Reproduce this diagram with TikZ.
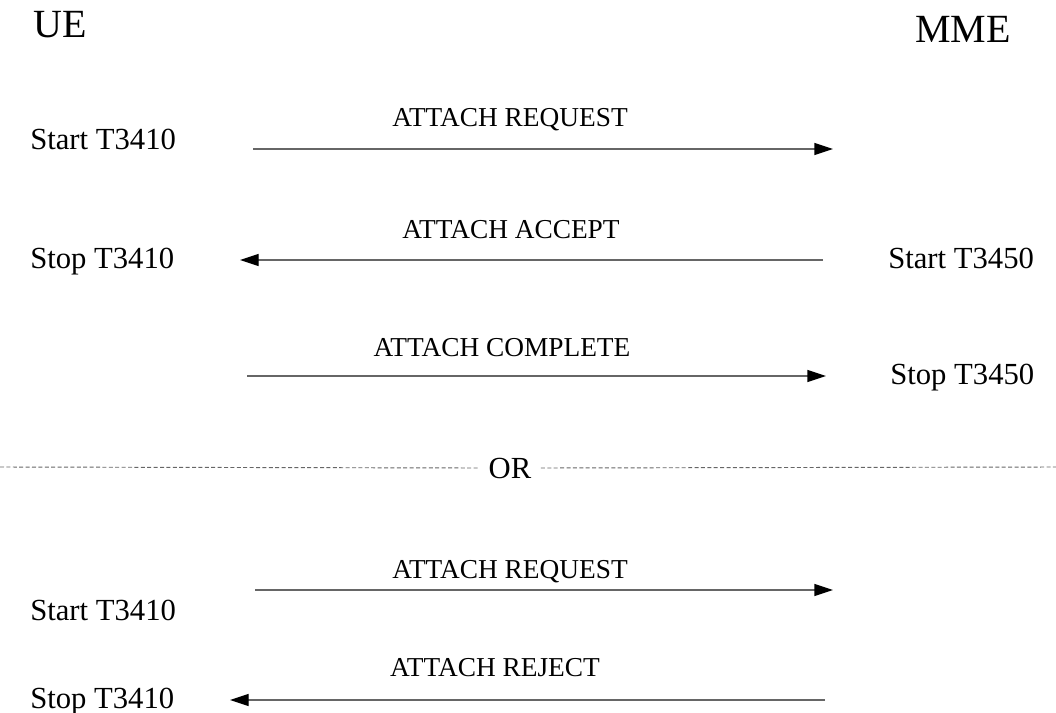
\documentclass[tikz,border=0pt]{standalone}
\usepackage{fontspec}
\setmainfont{Liberation Serif}
\usetikzlibrary{arrows.meta}

\tikzset{
  entity/.style={anchor=base west, inner sep=0pt, font=\fontsize{30}{36}\selectfont},
  timer/.style={anchor=base west, inner sep=0pt, font=\fontsize{23}{28}\selectfont},
  msglabel/.style={anchor=base, inner sep=0pt, font=\fontsize{20.5}{25}\selectfont},
  msg/.style={draw=gray!80!black, line width=1pt,
    -{Triangle[length=14pt,width=9pt,color=black]}},
  sep/.style={draw=gray!80!black, line width=0.7pt, dash pattern=on 3pt off 1.8pt}
}

\begin{document}
\begin{tikzpicture}[x=0.75pt,y=-0.75pt]
    \useasboundingbox (0,0) rectangle (1056,713);
    % entities
    \node [entity] (ue) at (33,38) {UE};
    \node [entity] (mme) at (915,43) {MME};
    % first exchange
    \node [timer] (start1) at (30,150) {Start T3410};
    \coordinate (req1a) at (253,149);
    \coordinate (req1b) at (833,149);
    \draw [msg] (req1a) -- (req1b);
    \node [msglabel] (req1) at (510,127) {ATTACH REQUEST};
    \node [timer] (stop1) at (30,268) {Stop T3410};
    \node [timer] (start2) at (888,268) {Start T3450};
    \coordinate (accb) at (823,260);
    \coordinate (acca) at (240,260);
    \draw [msg] (accb) -- (acca);
    \node [msglabel] (acc) at (511,238) {ATTACH ACCEPT};
    \coordinate (compa) at (247,376);
    \coordinate (compb) at (826,376);
    \draw [msg] (compa) -- (compb);
    \node [msglabel] (comp) at (502,356) {ATTACH COMPLETE};
    \node [timer] (stop2) at (890,384) {Stop T3450};
    % alternative
    \node [entity, anchor=center, font=\fontsize{23}{28}\selectfont] (or) at (510,468) {OR};
    \coordinate (sepl) at (0,467);
    \coordinate (sepr) at (1056,467);
    \draw [sep] (sepl) -- ([xshift=-7pt]or.west);
    \draw [sep] ([xshift=7pt]or.east) -- (sepr);
    % second exchange
    \node [timer] (start3) at (30,620) {Start T3410};
    \coordinate (req2a) at (255,590);
    \coordinate (req2b) at (833,590);
    \draw [msg] (req2a) -- (req2b);
    \node [msglabel] (req2) at (510,578) {ATTACH REQUEST};
    \node [timer] (stop3) at (30,708) {Stop T3410};
    \coordinate (rejb) at (825,700);
    \coordinate (reja) at (230,700);
    \draw [msg] (rejb) -- (reja);
    \node [msglabel] (rej) at (495,676) {ATTACH REJECT};
  \end{tikzpicture}
\end{document}
